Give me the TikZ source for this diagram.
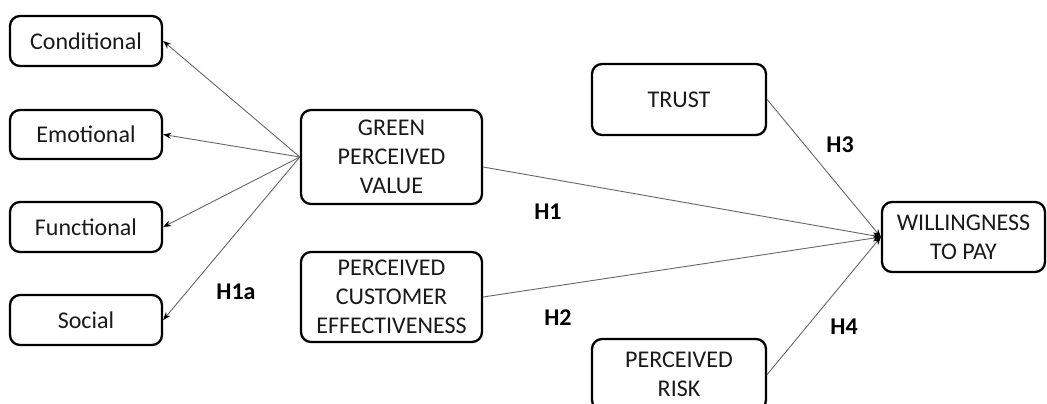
\documentclass[tikz,border=0pt]{standalone}
\usepackage{fontspec}
\setmainfont{Carlito}
\usetikzlibrary{arrows.meta}
\begin{document}
\begin{tikzpicture}[x=1pt,y=-1pt,
  box/.style={draw=black,line width=2.3pt,rounded corners=10pt,align=center,
    inner sep=2pt,font=\fontsize{24}{29}\selectfont,text=black!90},
  link/.style={draw=black!60,line width=0.9pt},
  tip/.style={-{Stealth[length=8pt,width=6pt,black]}},
  hyp/.style={font=\fontsize{24}{28}\selectfont\bfseries,text=black}]
\useasboundingbox (0,0) rectangle (1047,404);
% constructs
\node[box,minimum width=152pt,minimum height=50pt] (cond) at (86,41) {Conditional};
\node[box,minimum width=152pt,minimum height=49pt] (emo) at (86,134.5) {Emotional};
\node[box,minimum width=152pt,minimum height=50pt] (func) at (86,227) {Functional};
\node[box,minimum width=152pt,minimum height=50pt] (soc) at (86,320) {Social};
\node[box,minimum width=181pt,minimum height=94pt] (gpv) at (391.5,157) {GREEN\\PERCEIVED\\VALUE};
\node[box,minimum width=181pt,minimum height=90pt] (pce) at (391.5,297) {PERCEIVED\\CUSTOMER\\EFFECTIVENESS};
\node[box,minimum width=174pt,minimum height=71pt] (trust) at (679,99.5) {TRUST};
\node[box,minimum width=174pt,minimum height=71pt] (risk) at (679,374.5) {PERCEIVED\\RISK};
\node[box,minimum width=163pt,minimum height=70pt] (wtp) at (963.5,237) {WILLINGNESS\\TO PAY};
% value dimensions
\draw[link,tip] (gpv.west) -- (cond.east);
\draw[link,tip] (gpv.west) -- (emo.east);
\draw[link,tip] (gpv.west) -- (func.east);
\draw[link,tip] (gpv.west) -- (soc.east);
% paths to willingness to pay
\draw[link,tip] ([yshift=-10pt]gpv.east) -- (wtp.west);
\draw[link,tip] (pce.east) -- (wtp.west);
\draw[link,tip] (trust.east) -- (wtp.west);
\draw[link,tip] (risk.east) -- (wtp.west);
% hypothesis labels
\node[hyp] (h1a) at (236,292) {H1a};
\node[hyp] (h1) at (548,212) {H1};
\node[hyp] (h2) at (558,318) {H2};
\node[hyp] (h3) at (840,145) {H3};
\node[hyp] (h4) at (844,327) {H4};
\end{tikzpicture}
\end{document}
